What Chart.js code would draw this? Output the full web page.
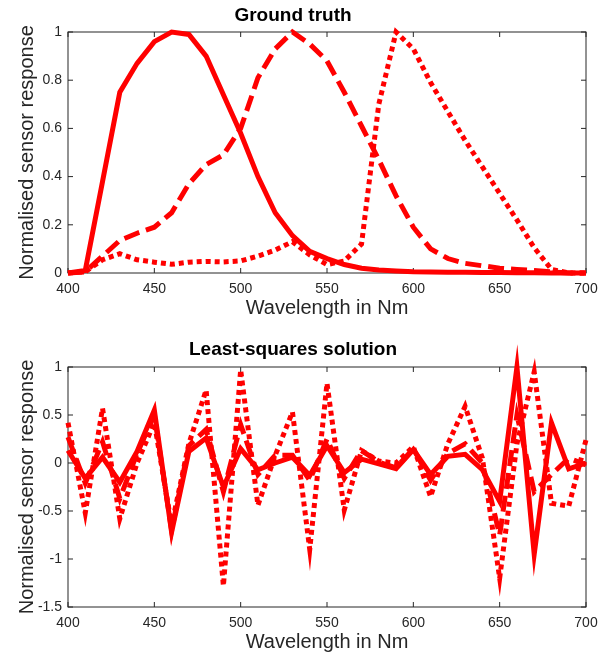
<!DOCTYPE html>
<html>
<head>
<meta charset="utf-8">
<script src="https://cdn.jsdelivr.net/npm/chart.js@4/dist/chart.umd.min.js"></script>
<style>
  body { margin: 0; background: #fff; }
  canvas { display: block; }
</style>
</head>
<body>
<canvas id="truth" width="610" height="320"></canvas>
<canvas id="lsq" width="610" height="334"></canvas>
<script>
var wavelengths = [400, 410, 420, 430, 440, 450, 460, 470, 480, 490, 500, 510, 520, 530, 540, 550,
  560, 570, 580, 590, 600, 610, 620, 630, 640, 650, 660, 670, 680, 690, 700];

// ground truth sensors
var truthSolid = [0, 0.01, 0.38, 0.75, 0.87, 0.96, 1.0, 0.99, 0.90, 0.74, 0.58, 0.40, 0.25, 0.155, 0.09, 0.06,
  0.035, 0.02, 0.012, 0.008, 0.005, 0.004, 0.003, 0.003, 0.002, 0.002, 0.001, 0.001, 0, 0, 0];
var truthDashed = [0, 0.005, 0.07, 0.135, 0.165, 0.19, 0.25, 0.37, 0.45, 0.49, 0.60, 0.81, 0.93, 1.0, 0.95, 0.88,
  0.75, 0.61, 0.47, 0.32, 0.19, 0.10, 0.06, 0.04, 0.03, 0.02, 0.015, 0.01, 0.005, 0, 0];
var truthDotted = [0, 0.005, 0.055, 0.08, 0.055, 0.045, 0.036, 0.045, 0.048, 0.046, 0.05, 0.07, 0.095, 0.13, 0.075, 0.035,
  0.05, 0.12, 0.70, 1.0, 0.93, 0.79, 0.67, 0.55, 0.44, 0.33, 0.22, 0.105, 0.015, 0, 0];

// least-squares estimates
var lsqSolid = [0.13, -0.16, 0.06, -0.2, 0.12, 0.55, -0.72, 0.12, 0.26, -0.25, 0.15, -0.07, 0.0, 0.06, -0.13, 0.18,
  -0.1, 0.04, -0.01, -0.06, 0.14, -0.12, 0.07, 0.09, -0.07, -0.4, 1.0, -0.95, 0.42, -0.06, 0.0];
var lsqDashed = [0.27, -0.21, 0.22, -0.37, 0.1, 0.5, -0.7, 0.18, 0.35, -0.3, 0.4, -0.12, 0.08, 0.08, -0.18, 0.25,
  -0.16, 0.13, 0.01, -0.05, 0.15, -0.18, 0.1, 0.2, 0.0, -0.75, 0.5, -0.3, -0.12, 0.05, -0.02];
var lsqDotted = [0.42, -0.52, 0.57, -0.58, 0.0, 0.42, -0.65, 0.2, 0.76, -1.28, 0.97, -0.44, 0.08, 0.53, -0.9, 0.83,
  -0.49, 0.13, 0.02, 0.0, 0.17, -0.35, 0.2, 0.59, 0.05, -1.2, 0.2, 0.95, -0.42, -0.45, 0.24];

var xTicks = [400, 450, 500, 550, 600, 650, 700];
var yTicksTruth = [0, 0.2, 0.4, 0.6, 0.8, 1];
var yTicksLsq = [-1.5, -1, -0.5, 0, 0.5, 1];

var font = "'Liberation Sans', Arial, Helvetica, sans-serif";
var axisColor = '#262626';

// MATLAB-like box with inward ticks on all four sides
var boxTicks = {
  id: 'boxTicks',
  beforeDatasetsDraw: function(chart) {
    var ctx = chart.ctx, a = chart.chartArea;
    var xs = chart.scales.x, ys = chart.scales.y;
    ctx.save();
    ctx.strokeStyle = axisColor;
    ctx.lineWidth = 1;
    ctx.strokeRect(a.left, a.top, a.right - a.left, a.bottom - a.top);
    ctx.beginPath();
    xs.ticks.forEach(function(t) {
      var px = xs.getPixelForValue(t.value);
      ctx.moveTo(px, a.bottom); ctx.lineTo(px, a.bottom - 5);
      ctx.moveTo(px, a.top); ctx.lineTo(px, a.top + 5);
    });
    ys.ticks.forEach(function(t) {
      var py = ys.getPixelForValue(t.value);
      ctx.moveTo(a.left, py); ctx.lineTo(a.left + 5, py);
      ctx.moveTo(a.right, py); ctx.lineTo(a.right - 5, py);
    });
    ctx.stroke();
    ctx.restore();
  }
};

function series(values, dash) {
  return {
    data: wavelengths.map(function(w, i) { return { x: w, y: values[i] }; }),
    borderColor: '#ff0000',
    borderWidth: 5,
    borderDash: dash,
    pointRadius: 0,
    tension: 0,
    fill: false,
    clip: false
  };
}

function plainLabel(v) {
  return String(v);
}

function drawPanel(id, title, sets, yMin, yMax, yTicks, titlePad) {
  return new Chart(document.getElementById(id), {
    type: 'line',
    data: { datasets: sets },
    plugins: [boxTicks],
    options: {
      responsive: false,
      animation: false,
      devicePixelRatio: 1,
      layout: { padding: { left: 0, right: 24, top: 0, bottom: 0 } },
      plugins: {
        legend: { display: false },
        tooltip: { enabled: false },
        title: {
          display: true,
          text: title,
          color: '#000',
          font: { family: font, size: 19, weight: 'bold', lineHeight: 1 },
          padding: titlePad
        }
      },
      scales: {
        x: {
          type: 'linear',
          min: 400,
          max: 700,
          afterBuildTicks: function(s) { s.ticks = xTicks.map(function(v) { return { value: v }; }); },
          afterFit: function(s) { s.height = 47; },
          grid: { display: false, drawTicks: false },
          border: { display: false },
          ticks: { color: axisColor, font: { family: font, size: 14 }, padding: 8, maxRotation: 0, callback: plainLabel },
          title: {
            display: true,
            text: 'Wavelength in Nm',
            color: axisColor,
            font: { family: font, size: 20, lineHeight: 1 },
            padding: { top: 0, bottom: 2 }
          }
        },
        y: {
          min: yMin,
          max: yMax,
          afterBuildTicks: function(s) { s.ticks = yTicks.map(function(v) { return { value: v }; }); },
          afterFit: function(s) { s.width = 68; },
          grid: { display: false, drawTicks: false },
          border: { display: false },
          ticks: { color: axisColor, font: { family: font, size: 14 }, padding: 6, callback: plainLabel },
          title: {
            display: true,
            text: 'Normalised sensor response',
            color: axisColor,
            font: { family: font, size: 20, lineHeight: 1 },
            padding: { top: 17, bottom: 0 }
          }
        }
      }
    }
  });
}

drawPanel('truth', 'Ground truth',
  [series(truthSolid, []), series(truthDashed, [16, 7]), series(truthDotted, [5, 4])],
  0, 1, yTicksTruth, { top: 6.5, bottom: 6.5 });

drawPanel('lsq', 'Least-squares solution',
  [series(lsqSolid, []), series(lsqDashed, [16, 7]), series(lsqDotted, [5, 4])],
  -1.5, 1, yTicksLsq, { top: 20.5, bottom: 7.5 });
</script>
</body>
</html>
